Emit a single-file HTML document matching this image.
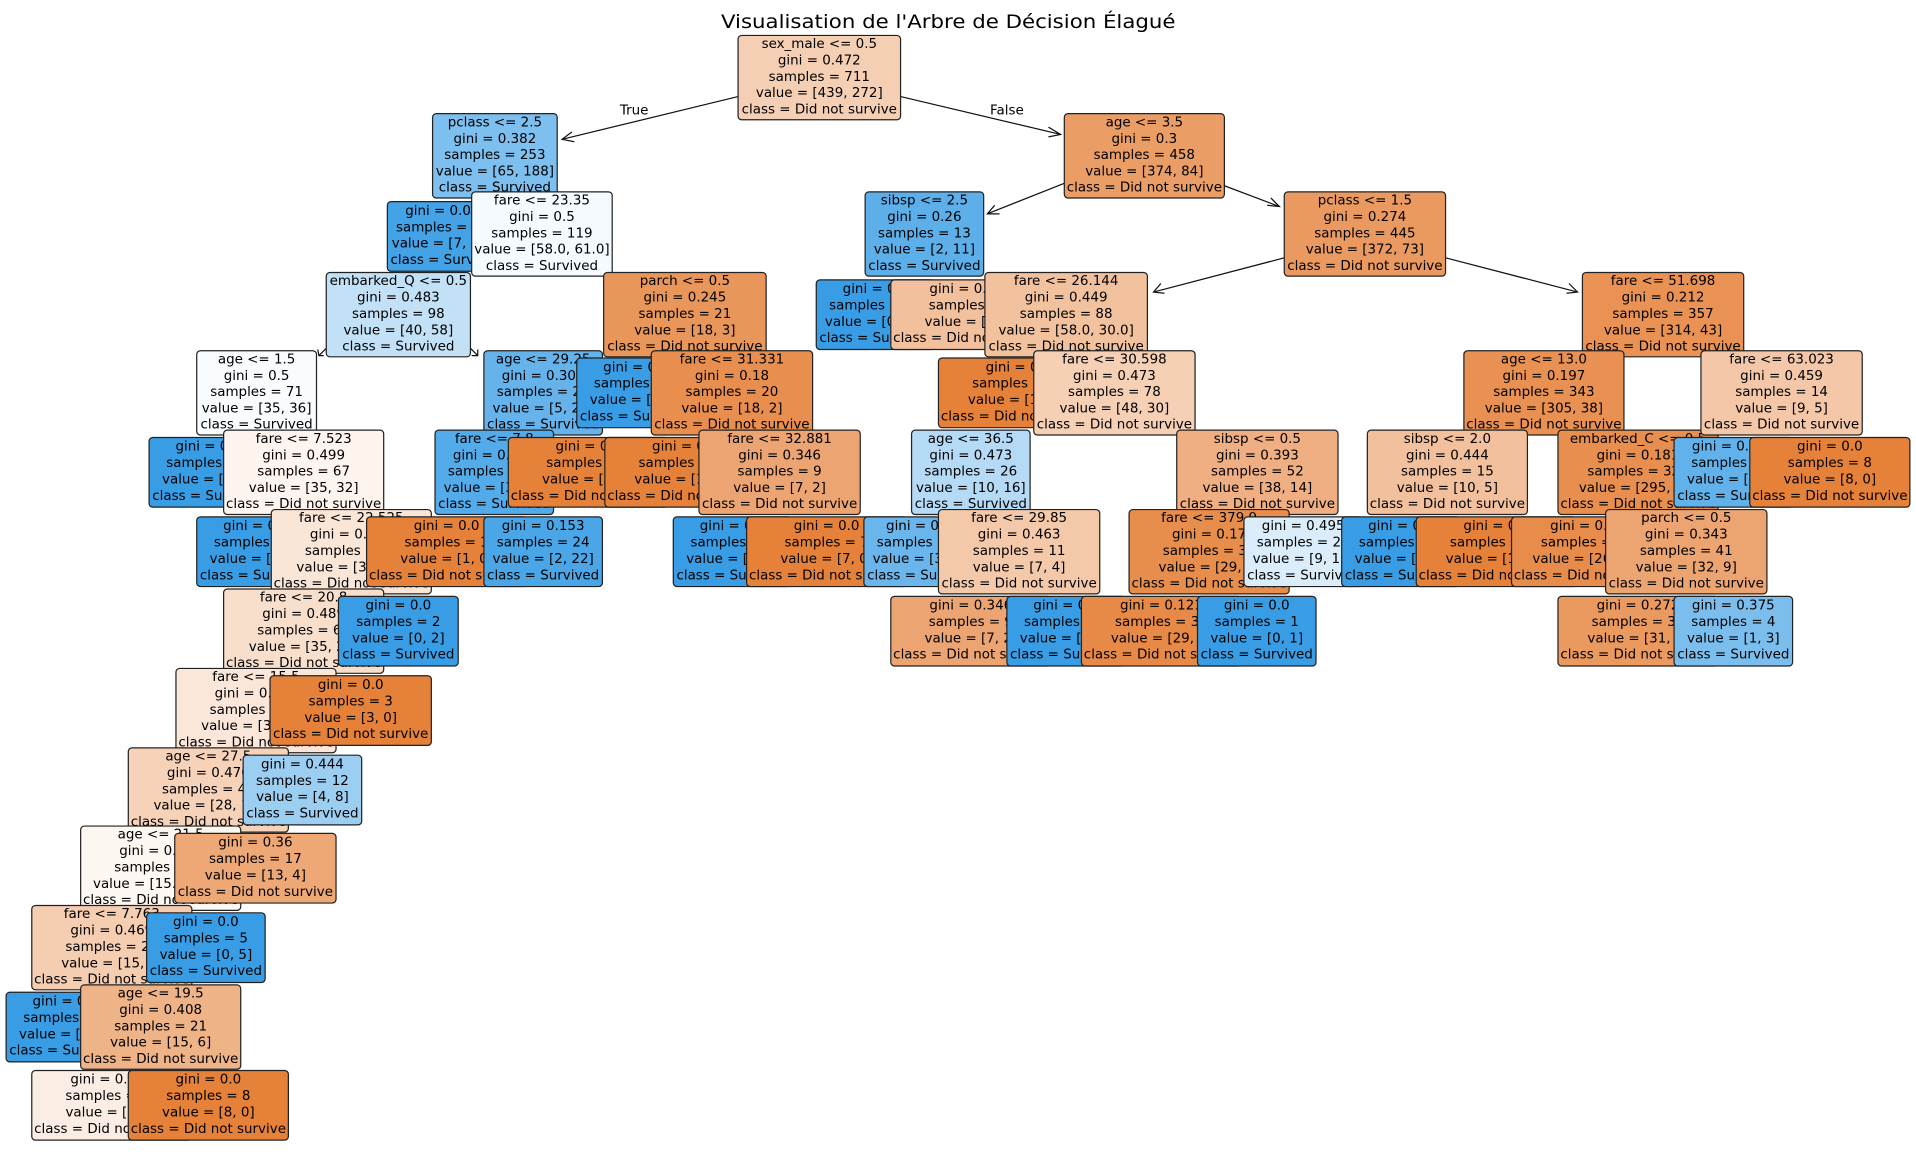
<!DOCTYPE html>
<html><head><meta charset="utf-8"><style>
html,body{margin:0;padding:0;background:#fff;}
svg{display:block;}
text{font-family:"DejaVu Sans","Liberation Sans",sans-serif;font-size:11px;fill:#000;text-anchor:middle;dominant-baseline:central;}
rect{stroke:#222;stroke-width:1;}
line,path.a{stroke:#111;stroke-width:1;fill:none;}
</style></head><body>
<svg width="1916" height="1156" viewBox="0 0 1568 946" preserveAspectRatio="none" xmlns="http://www.w3.org/2000/svg">
<rect x="0" y="0" width="1568" height="946" fill="#fff" style="stroke:none"/>
<text x="776" y="18" style="font-size:15.5px" textLength="372" lengthAdjust="spacingAndGlyphs">Visualisation de l'Arbre de Décision Élagué</text>

<line x1="604" y1="79" x2="460" y2="114"/><path class="a" d="M468,108 L460,114 L470,116"/>
<text x="519" y="91">True</text>
<line x1="737" y1="79" x2="868" y2="110"/><path class="a" d="M858,104 L868,110 L858,112"/>
<text x="824" y="91">False</text>
<line x1="871" y1="150" x2="808" y2="175"/><path class="a" d="M814,168 L808,175 L818,175"/>
<line x1="1002" y1="152" x2="1047" y2="169"/><path class="a" d="M1037,168 L1047,169 L1040,162"/>
<line x1="1051" y1="211" x2="944" y2="239"/><path class="a" d="M950,232 L944,239 L953,240"/>
<line x1="1183" y1="211" x2="1291" y2="239"/><path class="a" d="M1282,240 L1291,239 L1284,232"/>
<line x1="267" y1="285" x2="261" y2="291"/><path class="a" d="M260,286 L261,291 L265,291"/>
<line x1="385" y1="285" x2="391" y2="291"/><path class="a" d="M386,291 L391,291 L391,286"/>

<g><rect x="604" y="29" width="133" height="69" rx="3" fill="#f5cfb4"/><text x="670.5" y="36.5">sex_male &lt;= 0.5</text><text x="670.5" y="50">gini = 0.472</text><text x="670.5" y="63.3">samples = 711</text><text x="670.5" y="76.7">value = [439, 272]</text><text x="670.5" y="90">class = Did not survive</text></g>
<g><rect x="354" y="93" width="102" height="69" rx="3" fill="#7dbfee"/><text x="405" y="100.5">pclass &lt;= 2.5</text><text x="405" y="114">gini = 0.382</text><text x="405" y="127.3">samples = 253</text><text x="405" y="140.7">value = [65, 188]</text><text x="405" y="154">class = Survived</text></g>
<g><rect x="317" y="165" width="97" height="57" rx="3" fill="#44a2e6"/><text x="365.5" y="173">gini = 0.099</text><text x="365.5" y="186.4">samples = 134</text><text x="365.5" y="199.8">value = [7, 127]</text><text x="365.5" y="213.2">class = Survived</text></g>
<g><rect x="386" y="157" width="115" height="69" rx="3" fill="#f5fafe"/><text x="443.5" y="164.5">fare &lt;= 23.35</text><text x="443.5" y="178">gini = 0.5</text><text x="443.5" y="191.3">samples = 119</text><text x="443.5" y="204.7">value = [58.0, 61.0]</text><text x="443.5" y="218">class = Survived</text></g>
<g><rect x="267" y="223" width="118" height="69" rx="3" fill="#c2e1f7"/><text x="326" y="230.5">embarked_Q &lt;= 0.5</text><text x="326" y="244">gini = 0.483</text><text x="326" y="257.3">samples = 98</text><text x="326" y="270.7">value = [40, 58]</text><text x="326" y="284">class = Survived</text></g>
<g><rect x="161" y="287" width="98" height="69" rx="3" fill="#f9fcfe"/><text x="210" y="294.5">age &lt;= 1.5</text><text x="210" y="308">gini = 0.5</text><text x="210" y="321.3">samples = 71</text><text x="210" y="334.7">value = [35, 36]</text><text x="210" y="348">class = Survived</text></g>
<g><rect x="122" y="358" width="97" height="57" rx="3" fill="#399de5"/><text x="170.5" y="366">gini = 0.0</text><text x="170.5" y="379.4">samples = 4</text><text x="170.5" y="392.8">value = [0, 4]</text><text x="170.5" y="406.2">class = Survived</text></g>
<g><rect x="183" y="352" width="131" height="69" rx="3" fill="#fdf4ee"/><text x="248.5" y="359.5">fare &lt;= 7.523</text><text x="248.5" y="373">gini = 0.499</text><text x="248.5" y="386.3">samples = 67</text><text x="248.5" y="399.7">value = [35, 32]</text><text x="248.5" y="413">class = Did not survive</text></g>
<g><rect x="161" y="423" width="97" height="57" rx="3" fill="#399de5"/><text x="209.5" y="431">gini = 0.0</text><text x="209.5" y="444.4">samples = 4</text><text x="209.5" y="457.8">value = [0, 4]</text><text x="209.5" y="471.2">class = Survived</text></g>
<g><rect x="222" y="417" width="131" height="69" rx="3" fill="#fae6d7"/><text x="287.5" y="424.5">fare &lt;= 22.525</text><text x="287.5" y="438">gini = 0.494</text><text x="287.5" y="451.3">samples = 63</text><text x="287.5" y="464.7">value = [35, 28]</text><text x="287.5" y="478">class = Did not survive</text></g>
<g><rect x="183" y="482" width="131" height="69" rx="3" fill="#f8dfcc"/><text x="248.5" y="489.5">fare &lt;= 20.8</text><text x="248.5" y="503">gini = 0.489</text><text x="248.5" y="516.3">samples = 61</text><text x="248.5" y="529.7">value = [35, 26]</text><text x="248.5" y="543">class = Did not survive</text></g>
<g><rect x="144" y="547" width="131" height="69" rx="3" fill="#fae7da"/><text x="209.5" y="554.5">fare &lt;= 15.5</text><text x="209.5" y="568">gini = 0.495</text><text x="209.5" y="581.3">samples = 58</text><text x="209.5" y="594.7">value = [32, 26]</text><text x="209.5" y="608">class = Did not survive</text></g>
<g><rect x="105" y="612" width="131" height="69" rx="3" fill="#f6d2b8"/><text x="170.5" y="619.5">age &lt;= 27.5</text><text x="170.5" y="633">gini = 0.476</text><text x="170.5" y="646.3">samples = 46</text><text x="170.5" y="659.7">value = [28, 18]</text><text x="170.5" y="673">class = Did not survive</text></g>
<g><rect x="66" y="676" width="131" height="69" rx="3" fill="#fdf7f2"/><text x="131.5" y="683.5">age &lt;= 21.5</text><text x="131.5" y="697">gini = 0.499</text><text x="131.5" y="710.3">samples = 29</text><text x="131.5" y="723.7">value = [15.0, 14.0]</text><text x="131.5" y="737">class = Did not survive</text></g>
<g><rect x="26" y="741" width="131" height="69" rx="3" fill="#f5cdb0"/><text x="91.5" y="748.5">fare &lt;= 7.763</text><text x="91.5" y="762">gini = 0.469</text><text x="91.5" y="775.3">samples = 24</text><text x="91.5" y="788.7">value = [15, 9]</text><text x="91.5" y="802">class = Did not survive</text></g>
<g><rect x="5" y="812" width="97" height="57" rx="3" fill="#399de5"/><text x="53.5" y="820">gini = 0.0</text><text x="53.5" y="833.4">samples = 3</text><text x="53.5" y="846.8">value = [0, 3]</text><text x="53.5" y="860.2">class = Survived</text></g>
<g><rect x="66" y="806" width="131" height="69" rx="3" fill="#efb388"/><text x="131.5" y="813.5">age &lt;= 19.5</text><text x="131.5" y="827">gini = 0.408</text><text x="131.5" y="840.3">samples = 21</text><text x="131.5" y="853.7">value = [15, 6]</text><text x="131.5" y="867">class = Did not survive</text></g>
<g><rect x="26" y="876" width="131" height="57" rx="3" fill="#fbede3"/><text x="91.5" y="884">gini = 0.497</text><text x="91.5" y="897.4">samples = 13</text><text x="91.5" y="910.8">value = [7, 6]</text><text x="91.5" y="924.2">class = Did not survive</text></g>
<g><rect x="105" y="876" width="131" height="57" rx="3" fill="#e58139"/><text x="170.5" y="884">gini = 0.0</text><text x="170.5" y="897.4">samples = 8</text><text x="170.5" y="910.8">value = [8, 0]</text><text x="170.5" y="924.2">class = Did not survive</text></g>
<g><rect x="120" y="747" width="97" height="57" rx="3" fill="#399de5"/><text x="168.5" y="755">gini = 0.0</text><text x="168.5" y="768.4">samples = 5</text><text x="168.5" y="781.8">value = [0, 5]</text><text x="168.5" y="795.2">class = Survived</text></g>
<g><rect x="143" y="682" width="132" height="57" rx="3" fill="#eda876"/><text x="209" y="690">gini = 0.36</text><text x="209" y="703.4">samples = 17</text><text x="209" y="716.8">value = [13, 4]</text><text x="209" y="730.2">class = Did not survive</text></g>
<g><rect x="199" y="618" width="97" height="57" rx="3" fill="#9ccef2"/><text x="247.5" y="626">gini = 0.444</text><text x="247.5" y="639.4">samples = 12</text><text x="247.5" y="652.8">value = [4, 8]</text><text x="247.5" y="666.2">class = Survived</text></g>
<g><rect x="221" y="553" width="132" height="57" rx="3" fill="#e58139"/><text x="287" y="561">gini = 0.0</text><text x="287" y="574.4">samples = 3</text><text x="287" y="587.8">value = [3, 0]</text><text x="287" y="601.2">class = Did not survive</text></g>
<g><rect x="277" y="488" width="98" height="57" rx="3" fill="#399de5"/><text x="326" y="496">gini = 0.0</text><text x="326" y="509.4">samples = 2</text><text x="326" y="522.8">value = [0, 2]</text><text x="326" y="536.2">class = Survived</text></g>
<g><rect x="396" y="287" width="97" height="69" rx="3" fill="#66b3eb"/><text x="444.5" y="294.5">age &lt;= 29.25</text><text x="444.5" y="308">gini = 0.302</text><text x="444.5" y="321.3">samples = 27</text><text x="444.5" y="334.7">value = [5, 22]</text><text x="444.5" y="348">class = Survived</text></g>
<g><rect x="356" y="352" width="97" height="69" rx="3" fill="#54abe9"/><text x="404.5" y="359.5">fare &lt;= 7.8</text><text x="404.5" y="373">gini = 0.211</text><text x="404.5" y="386.3">samples = 25</text><text x="404.5" y="399.7">value = [3, 22]</text><text x="404.5" y="413">class = Survived</text></g>
<g><rect x="300" y="423" width="131" height="57" rx="3" fill="#e58139"/><text x="365.5" y="431">gini = 0.0</text><text x="365.5" y="444.4">samples = 1</text><text x="365.5" y="457.8">value = [1, 0]</text><text x="365.5" y="471.2">class = Did not survive</text></g>
<g><rect x="396" y="423" width="97" height="57" rx="3" fill="#4ba6e7"/><text x="444.5" y="431">gini = 0.153</text><text x="444.5" y="444.4">samples = 24</text><text x="444.5" y="457.8">value = [2, 22]</text><text x="444.5" y="471.2">class = Survived</text></g>
<g><rect x="416" y="358" width="131" height="57" rx="3" fill="#e58139"/><text x="481.5" y="366">gini = 0.0</text><text x="481.5" y="379.4">samples = 2</text><text x="481.5" y="392.8">value = [2, 0]</text><text x="481.5" y="406.2">class = Did not survive</text></g>
<g><rect x="494" y="223" width="133" height="69" rx="3" fill="#e9965a"/><text x="560.5" y="230.5">parch &lt;= 0.5</text><text x="560.5" y="244">gini = 0.245</text><text x="560.5" y="257.3">samples = 21</text><text x="560.5" y="270.7">value = [18, 3]</text><text x="560.5" y="284">class = Did not survive</text></g>
<g><rect x="472" y="293" width="97" height="57" rx="3" fill="#399de5"/><text x="520.5" y="301">gini = 0.0</text><text x="520.5" y="314.4">samples = 1</text><text x="520.5" y="327.8">value = [0, 1]</text><text x="520.5" y="341.2">class = Survived</text></g>
<g><rect x="533" y="287" width="132" height="69" rx="3" fill="#e88f4f"/><text x="599" y="294.5">fare &lt;= 31.331</text><text x="599" y="308">gini = 0.18</text><text x="599" y="321.3">samples = 20</text><text x="599" y="334.7">value = [18, 2]</text><text x="599" y="348">class = Did not survive</text></g>
<g><rect x="495" y="358" width="131" height="57" rx="3" fill="#e58139"/><text x="560.5" y="366">gini = 0.0</text><text x="560.5" y="379.4">samples = 11</text><text x="560.5" y="392.8">value = [11, 0]</text><text x="560.5" y="406.2">class = Did not survive</text></g>
<g><rect x="572" y="352" width="132" height="69" rx="3" fill="#eca572"/><text x="638" y="359.5">fare &lt;= 32.881</text><text x="638" y="373">gini = 0.346</text><text x="638" y="386.3">samples = 9</text><text x="638" y="399.7">value = [7, 2]</text><text x="638" y="413">class = Did not survive</text></g>
<g><rect x="551" y="423" width="97" height="57" rx="3" fill="#399de5"/><text x="599.5" y="431">gini = 0.0</text><text x="599.5" y="444.4">samples = 2</text><text x="599.5" y="457.8">value = [0, 2]</text><text x="599.5" y="471.2">class = Survived</text></g>
<g><rect x="611" y="423" width="131" height="57" rx="3" fill="#e58139"/><text x="676.5" y="431">gini = 0.0</text><text x="676.5" y="444.4">samples = 7</text><text x="676.5" y="457.8">value = [7, 0]</text><text x="676.5" y="471.2">class = Did not survive</text></g>

<g><rect x="871" y="93" width="131" height="69" rx="3" fill="#eb9d66"/><text x="936.5" y="100.5">age &lt;= 3.5</text><text x="936.5" y="114">gini = 0.3</text><text x="936.5" y="127.3">samples = 458</text><text x="936.5" y="140.7">value = [374, 84]</text><text x="936.5" y="154">class = Did not survive</text></g>
<g><rect x="708" y="157" width="97" height="69" rx="3" fill="#5dafea"/><text x="756.5" y="164.5">sibsp &lt;= 2.5</text><text x="756.5" y="178">gini = 0.26</text><text x="756.5" y="191.3">samples = 13</text><text x="756.5" y="204.7">value = [2, 11]</text><text x="756.5" y="218">class = Survived</text></g>
<g><rect x="668" y="229" width="97" height="57" rx="3" fill="#399de5"/><text x="716.5" y="237">gini = 0.0</text><text x="716.5" y="250.4">samples = 10</text><text x="716.5" y="263.8">value = [0, 10]</text><text x="716.5" y="277.2">class = Survived</text></g>
<g><rect x="729" y="229" width="131" height="57" rx="3" fill="#f2c09c"/><text x="794.5" y="237">gini = 0.444</text><text x="794.5" y="250.4">samples = 3</text><text x="794.5" y="263.8">value = [2, 1]</text><text x="794.5" y="277.2">class = Did not survive</text></g>
<g><rect x="1051" y="157" width="132" height="69" rx="3" fill="#ea9a60"/><text x="1117" y="164.5">pclass &lt;= 1.5</text><text x="1117" y="178">gini = 0.274</text><text x="1117" y="191.3">samples = 445</text><text x="1117" y="204.7">value = [372, 73]</text><text x="1117" y="218">class = Did not survive</text></g>
<g><rect x="806" y="223" width="133" height="69" rx="3" fill="#f2c29f"/><text x="872.5" y="230.5">fare &lt;= 26.144</text><text x="872.5" y="244">gini = 0.449</text><text x="872.5" y="257.3">samples = 88</text><text x="872.5" y="270.7">value = [58.0, 30.0]</text><text x="872.5" y="284">class = Did not survive</text></g>
<g><rect x="768" y="293" width="131" height="57" rx="3" fill="#e58139"/><text x="833.5" y="301">gini = 0.0</text><text x="833.5" y="314.4">samples = 10</text><text x="833.5" y="327.8">value = [10, 0]</text><text x="833.5" y="341.2">class = Did not survive</text></g>
<g><rect x="846" y="287" width="132" height="69" rx="3" fill="#f5d0b5"/><text x="912" y="294.5">fare &lt;= 30.598</text><text x="912" y="308">gini = 0.473</text><text x="912" y="321.3">samples = 78</text><text x="912" y="334.7">value = [48, 30]</text><text x="912" y="348">class = Did not survive</text></g>
<g><rect x="746" y="352" width="97" height="69" rx="3" fill="#b5daf5"/><text x="794.5" y="359.5">age &lt;= 36.5</text><text x="794.5" y="373">gini = 0.473</text><text x="794.5" y="386.3">samples = 26</text><text x="794.5" y="399.7">value = [10, 16]</text><text x="794.5" y="413">class = Survived</text></g>
<g><rect x="707" y="423" width="97" height="57" rx="3" fill="#6ab5ec"/><text x="755.5" y="431">gini = 0.32</text><text x="755.5" y="444.4">samples = 15</text><text x="755.5" y="457.8">value = [3, 12]</text><text x="755.5" y="471.2">class = Survived</text></g>
<g><rect x="768" y="417" width="132" height="69" rx="3" fill="#f4c9aa"/><text x="834" y="424.5">fare &lt;= 29.85</text><text x="834" y="438">gini = 0.463</text><text x="834" y="451.3">samples = 11</text><text x="834" y="464.7">value = [7, 4]</text><text x="834" y="478">class = Did not survive</text></g>
<g><rect x="729" y="488" width="131" height="57" rx="3" fill="#eca572"/><text x="794.5" y="496">gini = 0.346</text><text x="794.5" y="509.4">samples = 9</text><text x="794.5" y="522.8">value = [7, 2]</text><text x="794.5" y="536.2">class = Did not survive</text></g>
<g><rect x="824" y="488" width="97" height="57" rx="3" fill="#399de5"/><text x="872.5" y="496">gini = 0.0</text><text x="872.5" y="509.4">samples = 2</text><text x="872.5" y="522.8">value = [0, 2]</text><text x="872.5" y="536.2">class = Survived</text></g>
<g><rect x="963" y="352" width="132" height="69" rx="3" fill="#efaf82"/><text x="1029" y="359.5">sibsp &lt;= 0.5</text><text x="1029" y="373">gini = 0.393</text><text x="1029" y="386.3">samples = 52</text><text x="1029" y="399.7">value = [38, 14]</text><text x="1029" y="413">class = Did not survive</text></g>
<g><rect x="924" y="417" width="131" height="69" rx="3" fill="#e88e4d"/><text x="989.5" y="424.5">fare &lt;= 379.9</text><text x="989.5" y="438">gini = 0.17</text><text x="989.5" y="451.3">samples = 32</text><text x="989.5" y="464.7">value = [29, 3]</text><text x="989.5" y="478">class = Did not survive</text></g>
<g><rect x="885" y="488" width="131" height="57" rx="3" fill="#e78a47"/><text x="950.5" y="496">gini = 0.121</text><text x="950.5" y="509.4">samples = 31</text><text x="950.5" y="522.8">value = [29, 2]</text><text x="950.5" y="536.2">class = Did not survive</text></g>
<g><rect x="980" y="488" width="97" height="57" rx="3" fill="#399de5"/><text x="1028.5" y="496">gini = 0.0</text><text x="1028.5" y="509.4">samples = 1</text><text x="1028.5" y="522.8">value = [0, 1]</text><text x="1028.5" y="536.2">class = Survived</text></g>
<g><rect x="1018" y="423" width="97" height="57" rx="3" fill="#dbedfa"/><text x="1066.5" y="431">gini = 0.495</text><text x="1066.5" y="444.4">samples = 20</text><text x="1066.5" y="457.8">value = [9, 11]</text><text x="1066.5" y="471.2">class = Survived</text></g>
<g><rect x="1295" y="223" width="132" height="69" rx="3" fill="#e99254"/><text x="1361" y="230.5">fare &lt;= 51.698</text><text x="1361" y="244">gini = 0.212</text><text x="1361" y="257.3">samples = 357</text><text x="1361" y="270.7">value = [314, 43]</text><text x="1361" y="284">class = Did not survive</text></g>
<g><rect x="1198" y="287" width="131" height="69" rx="3" fill="#e89152"/><text x="1263.5" y="294.5">age &lt;= 13.0</text><text x="1263.5" y="308">gini = 0.197</text><text x="1263.5" y="321.3">samples = 343</text><text x="1263.5" y="334.7">value = [305, 38]</text><text x="1263.5" y="348">class = Did not survive</text></g>
<g><rect x="1119" y="352" width="131" height="69" rx="3" fill="#f2c09c"/><text x="1184.5" y="359.5">sibsp &lt;= 2.0</text><text x="1184.5" y="373">gini = 0.444</text><text x="1184.5" y="386.3">samples = 15</text><text x="1184.5" y="399.7">value = [10, 5]</text><text x="1184.5" y="413">class = Did not survive</text></g>
<g><rect x="1098" y="423" width="97" height="57" rx="3" fill="#399de5"/><text x="1146.5" y="431">gini = 0.0</text><text x="1146.5" y="444.4">samples = 5</text><text x="1146.5" y="457.8">value = [0, 5]</text><text x="1146.5" y="471.2">class = Survived</text></g>
<g><rect x="1159" y="423" width="131" height="57" rx="3" fill="#e58139"/><text x="1224.5" y="431">gini = 0.0</text><text x="1224.5" y="444.4">samples = 10</text><text x="1224.5" y="457.8">value = [10, 0]</text><text x="1224.5" y="471.2">class = Did not survive</text></g>
<g><rect x="1275" y="352" width="131" height="69" rx="3" fill="#e88f4f"/><text x="1340.5" y="359.5">embarked_C &lt;= 0.5</text><text x="1340.5" y="373">gini = 0.181</text><text x="1340.5" y="386.3">samples = 328</text><text x="1340.5" y="399.7">value = [295, 33]</text><text x="1340.5" y="413">class = Did not survive</text></g>
<g><rect x="1237" y="423" width="131" height="57" rx="3" fill="#e78c4b"/><text x="1302.5" y="431">gini = 0.153</text><text x="1302.5" y="444.4">samples = 287</text><text x="1302.5" y="457.8">value = [263, 24]</text><text x="1302.5" y="471.2">class = Did not survive</text></g>
<g><rect x="1314" y="417" width="132" height="69" rx="3" fill="#eca471"/><text x="1380" y="424.5">parch &lt;= 0.5</text><text x="1380" y="438">gini = 0.343</text><text x="1380" y="451.3">samples = 41</text><text x="1380" y="464.7">value = [32, 9]</text><text x="1380" y="478">class = Did not survive</text></g>
<g><rect x="1275" y="488" width="131" height="57" rx="3" fill="#ea995f"/><text x="1340.5" y="496">gini = 0.272</text><text x="1340.5" y="509.4">samples = 37</text><text x="1340.5" y="522.8">value = [31, 6]</text><text x="1340.5" y="536.2">class = Did not survive</text></g>
<g><rect x="1370" y="488" width="97" height="57" rx="3" fill="#7bbeee"/><text x="1418.5" y="496">gini = 0.375</text><text x="1418.5" y="509.4">samples = 4</text><text x="1418.5" y="522.8">value = [1, 3]</text><text x="1418.5" y="536.2">class = Survived</text></g>
<g><rect x="1392" y="287" width="132" height="69" rx="3" fill="#f3c7a7"/><text x="1458" y="294.5">fare &lt;= 63.023</text><text x="1458" y="308">gini = 0.459</text><text x="1458" y="321.3">samples = 14</text><text x="1458" y="334.7">value = [9, 5]</text><text x="1458" y="348">class = Did not survive</text></g>
<g><rect x="1370" y="358" width="97" height="57" rx="3" fill="#61b1ea"/><text x="1418.5" y="366">gini = 0.278</text><text x="1418.5" y="379.4">samples = 6</text><text x="1418.5" y="392.8">value = [1, 5]</text><text x="1418.5" y="406.2">class = Survived</text></g>
<g><rect x="1432" y="358" width="131" height="57" rx="3" fill="#e58139"/><text x="1497.5" y="366">gini = 0.0</text><text x="1497.5" y="379.4">samples = 8</text><text x="1497.5" y="392.8">value = [8, 0]</text><text x="1497.5" y="406.2">class = Did not survive</text></g>
</svg>
</body></html>
